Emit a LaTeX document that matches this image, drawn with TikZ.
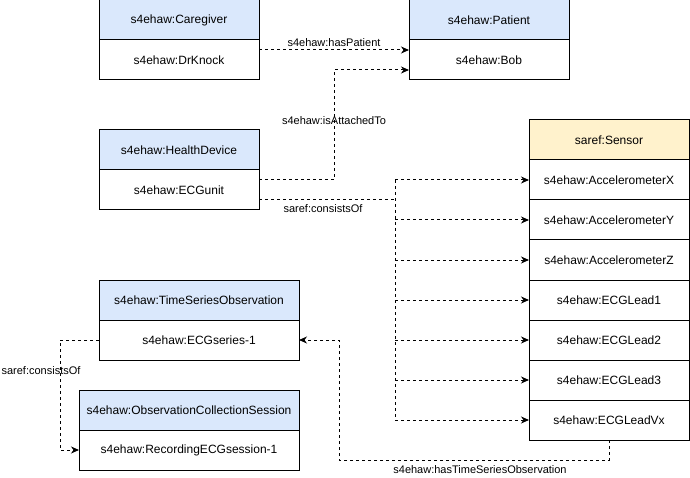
\documentclass[tikz,border=0pt]{standalone}
\usepackage{fontspec}
\setmainfont{Liberation Sans}
\usepackage{xcolor}
\usetikzlibrary{positioning,arrows.meta}
\definecolor{headblue}{HTML}{DAE8FC}
\definecolor{headyellow}{HTML}{FFF2CC}

\begin{document}
\begin{tikzpicture}[
    x=1pt, y=-1pt,
    node distance=0pt,
    cls/.style={rectangle, draw, line width=1pt, fill=headblue, minimum width=160pt, minimum height=40pt, inner sep=2pt, outer sep=0pt, font=\fontsize{12}{14}\selectfont},
    inst/.style={cls, fill=white},
    trunk/.style={dashed, line width=1pt},
    link/.style={trunk, -{Stealth[length=8pt, width=7pt, inset=2.5pt]}},
    lbl/.style={font=\fontsize{11}{13}\selectfont, inner sep=1pt}
]
\useasboundingbox (0,0) rectangle (690,478);

% Caregiver and patient
\node[cls] (caregiver) at (179,20) {s4ehaw:Caregiver};
\node[inst, below=of caregiver] (drknock) {s4ehaw:DrKnock};
\node[cls] (patient) at (489,20) {s4ehaw:Patient};
\node[inst, below=of patient] (bob) {s4ehaw:Bob};

% Health device
\node[cls] (device) at (179,150) {s4ehaw:HealthDevice};
\node[inst, below=of device] (ecgunit) {s4ehaw:ECGunit};

% Sensors
\node[cls, fill=headyellow] (sensor) at (609,140) {saref:Sensor};
\node[inst, below=of sensor] (accx) {s4ehaw:AccelerometerX};
\node[inst, below=of accx] (accy) {s4ehaw:AccelerometerY};
\node[inst, below=of accy] (accz) {s4ehaw:AccelerometerZ};
\node[inst, below=of accz] (lead1) {s4ehaw:ECGLead1};
\node[inst, below=of lead1] (lead2) {s4ehaw:ECGLead2};
\node[inst, below=of lead2] (lead3) {s4ehaw:ECGLead3};
\node[inst, below=of lead3] (leadvx) {s4ehaw:ECGLeadVx};

% Observations
\node[cls, minimum width=200pt] (tso) at (199,300) {s4ehaw:TimeSeriesObservation};
\node[inst, minimum width=200pt, below=of tso] (ecgseries) {s4ehaw:ECGseries-1};
\node[cls, minimum width=220pt] (session) at (189,410) {s4ehaw:ObservationCollectionSession};
\node[inst, minimum width=220pt, below=of session] (recording) {s4ehaw:RecordingECGsession-1};

% hasPatient
\draw[link] ([yshift=10pt]drknock.east) -- node[lbl, above=2pt] {s4ehaw:hasPatient} ([yshift=10pt]bob.west);

% isAttachedTo
\draw[link] ([yshift=10pt]ecgunit.east) -- ++(75,0) |- node[lbl, pos=0.27] {s4ehaw:isAttachedTo} ([yshift=-10pt]bob.west);

% consistsOf: device -> sensors
\coordinate (split) at (395,200);
\draw[trunk] ([yshift=-10pt]ecgunit.east) -- node[lbl, below=3pt, xshift=-4pt] {saref:consistsOf} (split);
\draw[trunk] (split |- accx.west) -- (split |- leadvx.west);
\draw[link] (split |- accx.west) -- (accx.west);
\draw[link] (split |- accy.west) -- (accy.west);
\draw[link] (split |- accz.west) -- (accz.west);
\draw[link] (split |- lead1.west) -- (lead1.west);
\draw[link] (split |- lead2.west) -- (lead2.west);
\draw[link] (split |- lead3.west) -- (lead3.west);
\draw[link] (split |- leadvx.west) -- (leadvx.west);

% hasTimeSeriesObservation
\draw[link] (leadvx.south) -- ++(0,20) -- node[lbl, below=4pt, xshift=6pt] {s4ehaw:hasTimeSeriesObservation} ++(-270,0) |- (ecgseries.east);

% consistsOf: series -> session
\draw[link] (ecgseries.west) -- ++(-39,0) |- node[lbl, pos=0.14, xshift=-19pt] {saref:consistsOf} (recording.west);

\end{tikzpicture}
\end{document}
